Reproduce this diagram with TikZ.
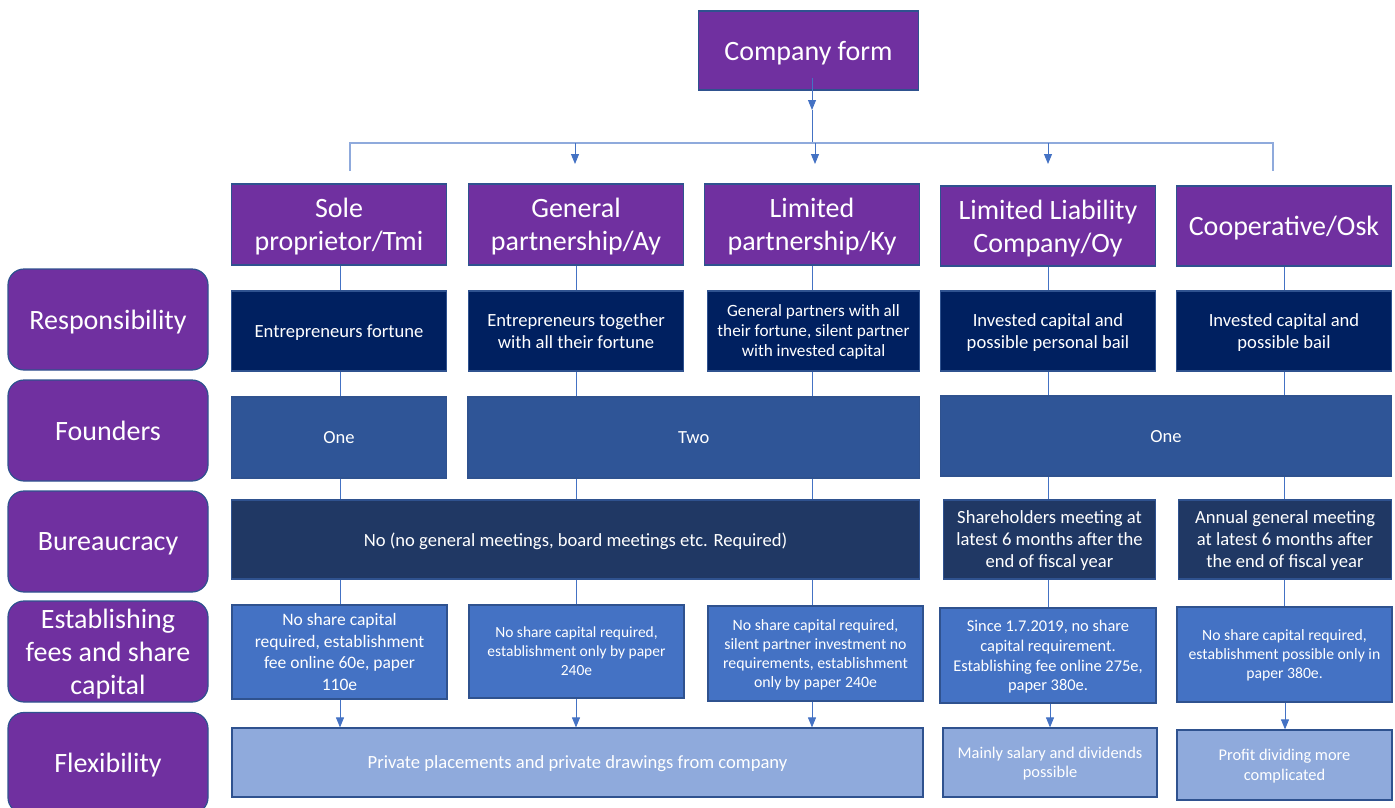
\documentclass[tikz,border=0pt]{standalone}
\usepackage{fontspec}
\setmainfont{Carlito}
\usetikzlibrary{arrows.meta}
\definecolor{purp}{HTML}{7030A0}
\definecolor{edge}{HTML}{2F528F}
\definecolor{navy}{HTML}{002060}
\definecolor{founderblue}{HTML}{2F5597}
\definecolor{bureau}{HTML}{203864}
\definecolor{estab}{HTML}{4472C4}
\definecolor{flex}{HTML}{8FAADC}
\definecolor{wire}{HTML}{4472C4}
\definecolor{buswire}{HTML}{8FAADC}

\begin{document}
\begin{tikzpicture}[x=1pt,y=-1pt,
  box/.style={draw=edge, line width=1.2pt, text=white, align=center, inner sep=2pt,
              minimum width=215pt, text depth=0pt},
  headbox/.style={box, fill=purp, minimum height=81pt, font=\fontsize{28}{33}\selectfont},
  rowlabel/.style={draw=edge, line width=1.2pt, fill=purp, text=white, align=center, rounded corners=16pt,
                   minimum width=200pt, minimum height=101pt, text depth=0pt,
                   font=\fontsize{28}{33}\selectfont},
  respbox/.style={box, fill=navy, minimum height=80pt, font=\fontsize{18.6}{22}\selectfont},
  foundbox/.style={box, fill=founderblue, minimum height=81pt, font=\fontsize{18.5}{22}\selectfont},
  burbox/.style={box, fill=bureau, minimum height=79pt, font=\fontsize{18.6}{22}\selectfont},
  estbox/.style={box, fill=estab, minimum height=94pt, font=\fontsize{15.5}{19}\selectfont},
  flexbox/.style={box, fill=flex, minimum height=69pt, font=\fontsize{16.4}{19.5}\selectfont},
  wireline/.style={draw=wire, line width=0.9pt},
  busline/.style={draw=buswire, line width=1.4pt},
  arrowline/.style={wireline, -{Triangle[length=10pt,width=8pt]}}
]
\useasboundingbox (0,0) rectangle (1395,807);
\clip (0,0) rectangle (1395,807);

% column axes
\coordinate (k1) at (340,0);
\coordinate (k2) at (576,0);
\coordinate (k3) at (812,0);
\coordinate (k4) at (1048,0);
\coordinate (k5) at (1284,0);

% top node
\node[headbox, minimum width=220pt, minimum height=79pt] (cf) at (808.5,50.5) {Company form};

% company forms
\node[headbox] (h1) at (339,224.5) {Sole\\proprietor/Tmi};
\node[headbox] (h2) at (576,224.5) {General\\partnership/Ay};
\node[headbox] (h3) at (812,224.5) {Limited\\partnership/Ky};
\node[headbox, minimum height=80pt] (h4) at (1048,226) {Limited Liability\\Company/Oy};
\node[headbox, minimum height=80pt] (h5) at (1284,226) {Cooperative/Osk};

% row labels
\node[rowlabel] (lresp) at (108,319.5) {Responsibility};
\node[rowlabel] (lfound) at (108,430.5) {Founders};
\node[rowlabel] (lbur) at (108,541.5) {Bureaucracy};
\node[rowlabel] (lest) at (108,651.5) {Establishing\\fees and share\\capital};
\node[rowlabel] (lflex) at (108,763) {Flexibility};

% responsibility
\node[respbox] (r1) at (339,331) {Entrepreneurs fortune};
\node[respbox] (r2) at (576,331) {Entrepreneurs together\\with all their fortune};
\node[respbox, minimum width=212pt, font=\fontsize{17.2}{20}\selectfont] (r3) at (813.5,331) {General partners with all\\their fortune, silent partner\\with invested capital};
\node[respbox] (r4) at (1048,331) {Invested capital and\\possible personal bail};
\node[respbox] (r5) at (1284,331) {Invested capital and\\possible bail};

% founders
\node[foundbox] (f1) at (339,437.5) {One};
\node[foundbox, minimum width=451.5pt] (f2) at (693.75,437.5) {Two};
\node[foundbox, minimum width=451pt, minimum height=80pt] (f3) at (1166,436) {One};

% bureaucracy
\node[burbox, minimum width=688pt] (b1) at (575.5,539.5) {No (no general meetings, board meetings etc. Required)};
\node[burbox, minimum width=212pt] (b4) at (1049.5,539.5) {Shareholders meeting at\\latest 6 months after the\\end of fiscal year};
\node[burbox, minimum width=213pt] (b5) at (1285,539.5) {Annual general meeting\\at latest 6 months after\\the end of fiscal year};

% establishing fees and share capital
\node[estbox, font=\fontsize{17.5}{21.5}\selectfont] (e1) at (339.5,652) {No share capital\\required, establishment\\fee online 60e, paper\\110e};
\node[estbox, minimum height=93pt] (e2) at (576.5,651.5) {No share capital required,\\establishment only by paper\\240e};
\node[estbox, minimum height=95pt, font=\fontsize{15.8}{18.7}\selectfont] (e3) at (815.5,653.5) {No share capital required,\\silent partner investment no\\requirements, establishment\\only by paper 240e};
\node[estbox, minimum width=216pt, minimum height=95pt, font=\fontsize{16.4}{19.7}\selectfont] (e4) at (1048,655.5) {Since 1.7.2019, no share\\capital requirement.\\Establishing fee online 275e,\\paper 380e.};
\node[estbox, minimum height=95pt, font=\fontsize{15.7}{19}\selectfont] (e5) at (1284.5,654.5) {No share capital required,\\establishment possible only in\\paper 380e.};

% flexibility
\node[flexbox, minimum width=691pt, font=\fontsize{18.6}{21}\selectfont] (x1) at (577.5,762.5) {Private placements and private drawings from company};
\node[flexbox, minimum width=214pt] (x4) at (1050,762.5) {Mainly salary and dividends\\possible};
\node[flexbox, minimum height=70pt] (x5) at (1284.5,765) {Profit dividing more\\complicated};

% distribution from the top node
\coordinate (cfout) at (812,78);
\coordinate (cftip) at (812,110);
\coordinate (busL) at (350,143);
\coordinate (busC) at (812,143);
\coordinate (busR) at (1273,143);
\coordinate (dropL) at (350,171);
\coordinate (dropR) at (1273,171);
\coordinate (tip2) at (575,164);
\coordinate (tip3) at (815,164);
\coordinate (tip4) at (1048,164);

\draw[arrowline] (cfout) -- (cftip);
\draw[wireline] (cftip) -- (busC);
\draw[busline] (dropL) -- (busL) -- (busR) -- (dropR);
\draw[arrowline] (tip2 |- busL) -- (tip2);
\draw[arrowline] (tip3 |- busL) -- (tip3);
\draw[arrowline] (tip4 |- busL) -- (tip4);

% company form to responsibility
\foreach \c/\h/\r in {k1/h1/r1, k2/h2/r2, k3/h3/r3, k4/h4/r4, k5/h5/r5}
  \draw[wireline] (\c |- \h.south) -- (\c |- \r.north);

% responsibility to founders
\foreach \c/\r/\f in {k1/r1/f1, k2/r2/f2, k3/r3/f2, k4/r4/f3, k5/r5/f3}
  \draw[wireline] (\c |- \r.south) -- (\c |- \f.north);

% founders to bureaucracy
\foreach \c/\f/\b in {k1/f1/b1, k2/f2/b1, k3/f2/b1, k4/f3/b4, k5/f3/b5}
  \draw[wireline] (\c |- \f.south) -- (\c |- \b.north);

% bureaucracy to establishing
\foreach \c/\b/\e in {k1/b1/e1, k2/b1/e2, k3/b1/e3, k4/b4/e4, k5/b5/e5}
  \draw[wireline] (\c |- \b.south) -- (\c |- \e.north);

% establishing to flexibility
\foreach \c/\e/\x in {k1/e1/x1, k2/e2/x1, k3/e3/x1}
  \draw[arrowline] (\c |- \e.south) -- (\c |- \x.north);
\coordinate (k4b) at (1050,0);
\coordinate (k5b) at (1285,0);
\draw[arrowline] (k4b |- e4.south) -- (k4b |- x4.north);
\draw[arrowline] (k5b |- e5.south) -- (k5b |- x5.north);
\end{tikzpicture}
\end{document}
